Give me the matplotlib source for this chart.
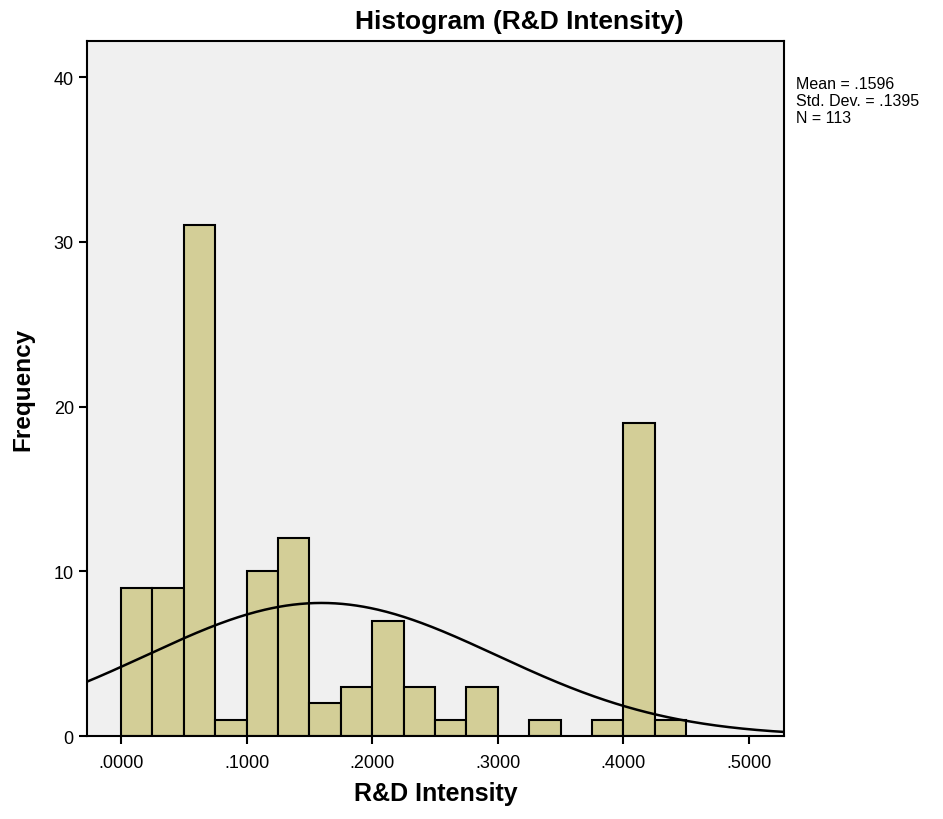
import matplotlib.pyplot as plt
import numpy as np

plt.rcParams['font.family'] = ['Liberation Sans', 'DejaVu Sans']

# histogram bins (width .025 starting at 0) and counts
bin_edges = np.arange(0, 0.45 + 0.001, 0.025)
counts = [9, 9, 31, 1, 10, 12, 2, 3, 7, 3, 1, 3, 0, 1, 0, 1, 19, 1]
mean = 0.1596
sd = 0.1395
n = 113
xticks = [0.0, 0.1, 0.2, 0.3, 0.4, 0.5]
xticklabels = ['.0000', '.1000', '.2000', '.3000', '.4000', '.5000']
yticks = [0, 10, 20, 30, 40]

fig = plt.figure(figsize=(9.43, 8.2), dpi=100)
ax = fig.add_axes([0.0923, 0.1012, 0.7391, 0.8476])
ax.set_facecolor('#f0f0f0')

width = bin_edges[1] - bin_edges[0]
nz = [i for i, c in enumerate(counts) if c > 0]
ax.bar(bin_edges[nz], [counts[i] for i in nz], width=width, align='edge',
       color='#d3ce97', edgecolor='black', linewidth=1.5, zorder=2)

# normal curve scaled to counts
xs = np.linspace(-0.03, 0.53, 400)
ys = n * width * np.exp(-0.5 * ((xs - mean) / sd) ** 2) / (sd * np.sqrt(2 * np.pi))
ax.plot(xs, ys, color='black', linewidth=1.8, zorder=3)

ax.set_xlim(-0.0271, 0.528)
ax.set_ylim(0, 42.2)
ax.set_xticks(xticks)
ax.set_xticklabels(xticklabels)
ax.set_yticks(yticks)
ax.tick_params(direction='out', length=6, width=1.5, labelsize=13)
ax.tick_params(axis='x', pad=7)
for s in ax.spines.values():
    s.set_linewidth(1.5)

fig.text(519 / 943, 1 - 22 / 820, 'Histogram (R&D Intensity)', fontsize=19,
         fontweight='bold', ha='center', va='center')
ax.set_xlabel('R&D Intensity', fontsize=18, fontweight='bold', labelpad=7)
ax.set_ylabel('Frequency', fontsize=17.5, fontweight='bold', labelpad=14)

stats = 'Mean = .1596\nStd. Dev. = .1395\nN = %d' % n
fig.text(796 / 943, 1 - 77 / 820, stats,
         fontsize=11.5, va='top', ha='left', linespacing=1.15)

fig.savefig('out.png', dpi=100)
